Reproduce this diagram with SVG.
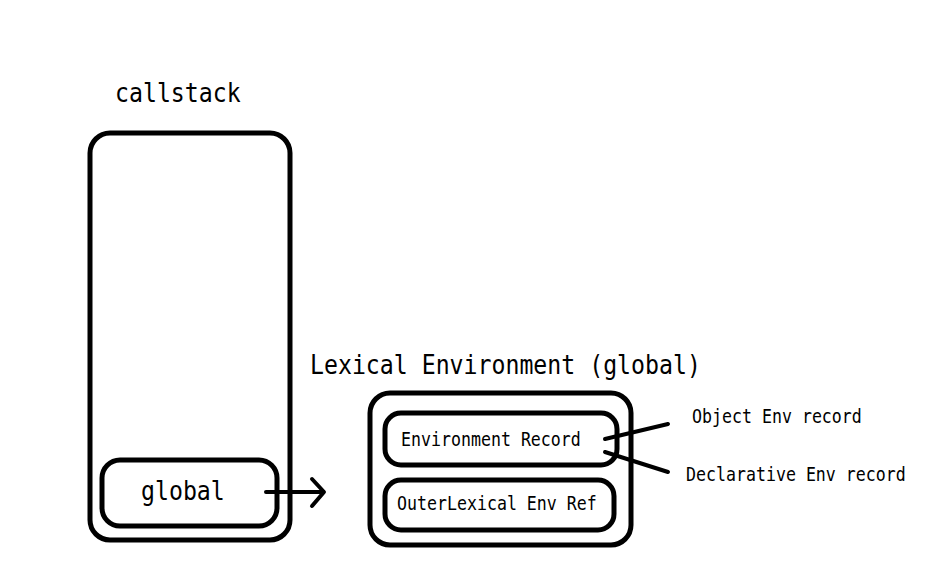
<svg xmlns="http://www.w3.org/2000/svg" width="952" height="587" viewBox="0 0 952 587">
<style>
.box{fill:none;stroke:#000;stroke-width:5}
.t{font-family:"DejaVu Sans Mono","Liberation Mono",monospace;fill:#000}
.big{font-size:23.2px}
.sm{font-size:16.6px}
.ln{fill:none;stroke:#000;stroke-width:4;stroke-linecap:round;stroke-linejoin:round}
</style>
<rect width="952" height="587" fill="#fff"/>
<text class="t big" transform="translate(115,102) scale(1,1.17)">callstack</text>
<g id="callstack">
<rect class="box" x="90" y="133" width="200" height="407" rx="20"/>
</g>
<g id="global">
<rect class="box" x="102" y="460" width="175" height="66" rx="18"/>
<text class="t big" transform="translate(141,500) scale(1,1.17)">global</text>
</g>
<text class="t big" transform="translate(310,374) scale(1,1.17)">Lexical Environment (global)</text>
<g id="lexenv">
<rect class="box" x="370" y="393" width="261" height="152" rx="20"/>
</g>
<g id="envrecord">
<rect class="box" x="385" y="413" width="232" height="52" rx="16"/>
<text class="t sm" transform="translate(401,446) scale(1,1.2)">Environment Record</text>
</g>
<g id="outerref">
<rect class="box" x="385" y="480" width="229" height="50" rx="16"/>
<text class="t sm" transform="translate(397,510) scale(1,1.2)">OuterLexical Env Ref</text>
</g>
<g id="objenv"><text class="t sm" transform="translate(692,423) scale(1,1.2)">Object Env record</text></g>
<g id="declenv"><text class="t sm" transform="translate(686,481) scale(1,1.2)">Declarative Env record</text></g>
<g id="connectors">
<path class="ln" d="M266 492 H323 M312 479 L324 492 L312 506"/>
<path class="ln" d="M605 439 L668 424"/>
<path class="ln" d="M605 452 L668 472"/>
</g>
</svg>
